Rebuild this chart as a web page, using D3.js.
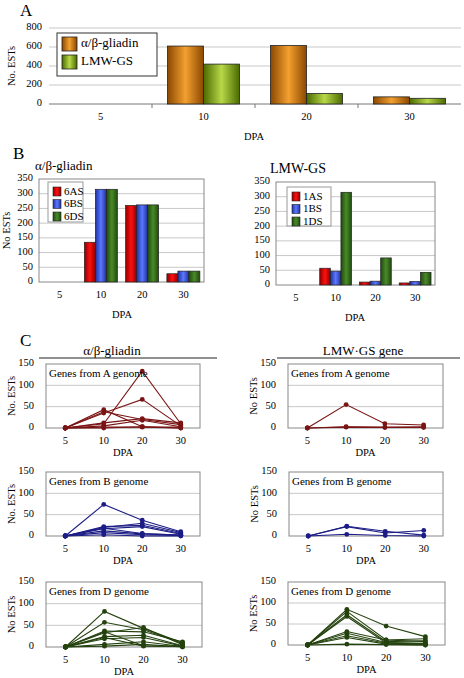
<!DOCTYPE html>
<html><head><meta charset="utf-8">
<script src="https://cdn.jsdelivr.net/npm/d3@7"></script>
<style>body{margin:0;background:#fff}svg{display:block}</style>
</head><body><svg id="c" width="464" height="678"></svg>
<script>
const dpa = ["5","10","20","30"];
// Panel A
const aSeries = ["α/β-gliadin","LMW-GS"];
const aGliadin = [0, 610, 615, 75];
const aLMW = [0, 420, 110, 60];
const aTicks = [0,200,400,600,800];
// Panel B
const bGliadinSeries = ["6AS","6BS","6DS"];
const b6AS = [0,135,260,28];
const b6BS = [0,315,262,37];
const b6DS = [0,315,262,37];
const bLMWSeries = ["1AS","1BS","1DS"];
const b1AS = [0,57,10,7];
const b1BS = [0,47,13,12];
const b1DS = [0,315,92,43];
const bTicks = [0,50,100,150,200,250,300,350];
// Panel C (each row = one gene, values at 5,10,20,30 DPA)
const cTicks = [0,50,100,150];
const cGliadinA = [[0,10,133,10],[0,35,67,5],[0,43,3,2],[0,38,20,8],[0,12,22,12],[0,5,18,3],[0,2,2,0],[0,0,3,0]];
const cLMWA = [[0,55,10,7],[0,2,1,1],[0,3,2,3]];
const cGliadinB = [[0,74,37,10],[0,20,30,8],[0,22,25,6],[0,17,22,4],[0,12,5,2],[0,8,3,1],[0,3,0,0],[0,18,6,2]];
const cLMWB = [[0,22,7,13],[0,23,11,2],[0,4,1,0]];
const cGliadinD = [[0,82,43,10],[0,57,40,8],[0,37,35,12],[0,33,45,5],[0,24,27,3],[0,19,22,2],[0,6,12,1],[0,2,6,0],[0,35,3,2],[0,22,2,1]];
const cLMWD = [[0,85,45,20],[0,80,12,15],[0,72,8,10],[0,68,5,4],[0,32,12,8],[0,28,6,3],[0,22,4,2],[0,18,2,0],[0,2,1,0]];

const FONT = "Liberation Serif, Times New Roman, DejaVu Serif, serif";
const svg = d3.select("#c");
const defs = svg.append("defs");
function grad(id, edge, mid){
  const g = defs.append("linearGradient").attr("id",id).attr("x1","0").attr("x2","1").attr("y1","0").attr("y2","0");
  g.append("stop").attr("offset","0").attr("stop-color",edge);
  g.append("stop").attr("offset","0.5").attr("stop-color",mid);
  g.append("stop").attr("offset","1").attr("stop-color",edge);
}
grad("gOr","#8a4800","#f4a030");
grad("gGr","#4a6a00","#b8d848");
grad("gRed","#900000","#ff1010");
grad("gBlue","#2030a0","#5a78ff");
grad("gDG","#1e4a10","#4a8a28");

function txt(x,y,s,size,anchor){
  return svg.append("text").attr("x",x).attr("y",y).style("font-size",size+"px").style("font-family",FONT)
    .attr("fill","#000").attr("text-anchor",anchor||"start").attr("dominant-baseline","middle").text(s);
}
function vtxt(x,y,s,size){
  svg.append("text").attr("transform",`translate(${x},${y}) rotate(-90)`).style("font-size",size+"px").style("font-family",FONT)
    .attr("text-anchor","middle").attr("dominant-baseline","middle").text(s);
}
const idx = arr => arr.map((v,i)=>({v,i})).filter(d=>d.v>0);

// ---------- Panel A ----------
txt(20,12,"A",17);
{
  const x = d3.scaleBand().domain(dpa).range([49,461]);
  const xs = d3.scaleBand().domain(aSeries).range([0,x.bandwidth()]).paddingOuter(0.43);
  const y = d3.scaleLinear().domain([0,800]).range([104,28]);
  const g = svg.append("g");
  aTicks.forEach(t=>{ if(t>0) g.append("line").attr("x1",49).attr("x2",461).attr("y1",y(t)).attr("y2",y(t)).attr("stroke","#c8c8c8"); });
  aTicks.forEach(t=>txt(42,y(t),t,10.5,"end"));
  g.append("line").attr("x1",49).attr("x2",461).attr("y1",y(0)).attr("y2",y(0)).attr("stroke","#777");
  dpa.forEach((d,i)=>{ if(i>0) g.append("line").attr("x1",x(d)).attr("x2",x(d)).attr("y1",y(0)).attr("y2",y(0)+4).attr("stroke","#777"); });
  const vals = [aGliadin,aLMW], fills=["url(#gOr)","url(#gGr)"];
  vals.forEach((arr,si)=>{
    g.selectAll(null).data(idx(arr)).join("rect")
      .attr("x",d=>x(dpa[d.i])+xs(aSeries[si])).attr("width",xs.bandwidth())
      .attr("y",d=>y(d.v)).attr("height",d=>y(0)-y(d.v)).attr("fill",fills[si]).attr("stroke","#222").attr("stroke-width",0.8);
  });
  dpa.forEach(d=>txt(x(d)+x.bandwidth()/2,118,d,10.5,"middle"));
  txt(254,138,"DPA",10.5,"middle");
  vtxt(13,66,"No. ESTs",10.5);
  // legend
  g.append("rect").attr("x",57).attr("y",33).attr("width",100).attr("height",43).attr("fill","#fff").attr("stroke","#333");
  aSeries.forEach((s,i)=>{
    g.append("rect").attr("x",62).attr("y",37+i*18).attr("width",15).attr("height",14).attr("fill",fills[i]).attr("stroke","#222").attr("stroke-width",0.8);
    txt(81,44+i*18,s,13);
  });
}

// ---------- Panel B ----------
txt(13,155,"B",17);
function barB(L,R,T,B,series,arrs,fills,legend,title,titleX,titleSize,ylab){
  const x = d3.scaleBand().domain(dpa).range([L,R]);
  const xs = d3.scaleBand().domain(series).range([0,x.bandwidth()]).paddingOuter(0.375);
  const y = d3.scaleLinear().domain([0,350]).range([B,T]);
  const g = svg.append("g");
  bTicks.forEach(t=>{ if(t>0&&t<350) g.append("line").attr("x1",L).attr("x2",R).attr("y1",y(t)).attr("y2",y(t)).attr("stroke","#c8c8c8"); });
  g.append("rect").attr("x",L).attr("y",T).attr("width",R-L).attr("height",B-T).attr("fill","none").attr("stroke","#888");
  bTicks.forEach(t=>txt(L-6,y(t),t,10.5,"end"));
  arrs.forEach((arr,si)=>{
    g.selectAll(null).data(idx(arr)).join("rect")
      .attr("x",d=>x(dpa[d.i])+xs(series[si])).attr("width",xs.bandwidth())
      .attr("y",d=>y(d.v)).attr("height",d=>y(0)-y(d.v)).attr("fill",fills[si]).attr("stroke","#222").attr("stroke-width",0.7);
  });
  dpa.forEach(d=>txt(x(d)+x.bandwidth()/2,B+14,d,10.5,"middle"));
  g.append("rect").attr("x",legend[0]).attr("y",legend[1]).attr("width",legend[2]).attr("height",legend[3]).attr("fill","#fff").attr("stroke","#999");
  series.forEach((s,i)=>{
    g.append("rect").attr("x",legend[0]+5).attr("y",legend[1]+5+i*12.5).attr("width",8).attr("height",9).attr("fill",fills[i]).attr("stroke","#222").attr("stroke-width",0.6);
    txt(legend[0]+16,legend[1]+10+i*12.5,s,11);
  });
  txt(titleX,T-12,title,titleSize);
  if(ylab) vtxt(L-31,(T+B)/2,ylab,10.5);
}
const bFills = ["url(#gRed)","url(#gBlue)","url(#gDG)"];
barB(39,204,179,282,bGliadinSeries,[b6AS,b6BS,b6DS],bFills,[48,182,35,40],"α/β-gliadin",35,13,"No ESTs");
barB(276,435,182,285,bLMWSeries,[b1AS,b1BS,b1DS],bFills,[287,187,44,39],"LMW-GS",270,14,null);
txt(122,316,"DPA",10.5,"middle");
txt(355,319,"DPA",10.5,"middle");

// ---------- Panel C ----------
txt(20,342,"C",17);
txt(112,352,"α/β-gliadin",13,"middle");
txt(363,352,"LMW·GS gene",13,"middle");
svg.append("line").attr("x1",39).attr("x2",217).attr("y1",358).attr("y2",358).attr("stroke","#222");
svg.append("line").attr("x1",277).attr("x2",460).attr("y1",358).attr("y2",358).attr("stroke","#222");

function lineC(L,R,T,B,data,color,label,ylab){
  const x = d3.scalePoint().domain(dpa).range([L,R]).padding(0.5);
  const y = d3.scaleLinear().domain([0,150]).range([B,T]);
  const g = svg.append("g");
  cTicks.forEach(t=>{ if(t>0&&t<150) g.append("line").attr("x1",L).attr("x2",R).attr("y1",y(t)).attr("y2",y(t)).attr("stroke","#c8c8c8"); });
  g.append("rect").attr("x",L).attr("y",T).attr("width",R-L).attr("height",B-T).attr("fill","none").attr("stroke","#888");
  cTicks.forEach(t=>txt(L-12,y(t),t,10.5,"end"));
  const ln = d3.line().x((v,i)=>x(dpa[i])).y(v=>y(v));
  data.forEach(row=>{
    g.append("path").attr("d",ln(row)).attr("fill","none").attr("stroke",color).attr("stroke-width",1.1);
    g.selectAll(null).data(row).join("circle").attr("cx",(v,i)=>x(dpa[i])).attr("cy",v=>y(v)).attr("r",2.4).attr("fill",color);
  });
  txt(L+3,T+10,label,11);
  dpa.forEach(d=>txt(x(d),B+14,d,10.5,"middle"));
  txt((L+R)/2,B+26,"DPA",10.5,"middle");
  vtxt(L-33,(T+B)/2,ylab,10.5);
}
const cRed="#7a1414", cBlue="#1c1c86", cGreen="#24420e";
lineC(46,200,364,428,cGliadinA,cRed,"Genes from A genome","No. ESTs");
lineC(288,443,364,428,cLMWA,cRed,"Genes from A genome","No ESTs");
lineC(46,200,472,536,cGliadinB,cBlue,"Genes from B genome","No. ESTs");
lineC(289,443,472,536,cLMWB,cBlue,"Genes from B genome","No ESTs");
lineC(46,202,582,647,cGliadinD,cGreen,"Genes from D genome","No ESTs");
lineC(288,445,582,645,cLMWD,cGreen,"Genes from D genome","No ESTs");
</script></body></html>
